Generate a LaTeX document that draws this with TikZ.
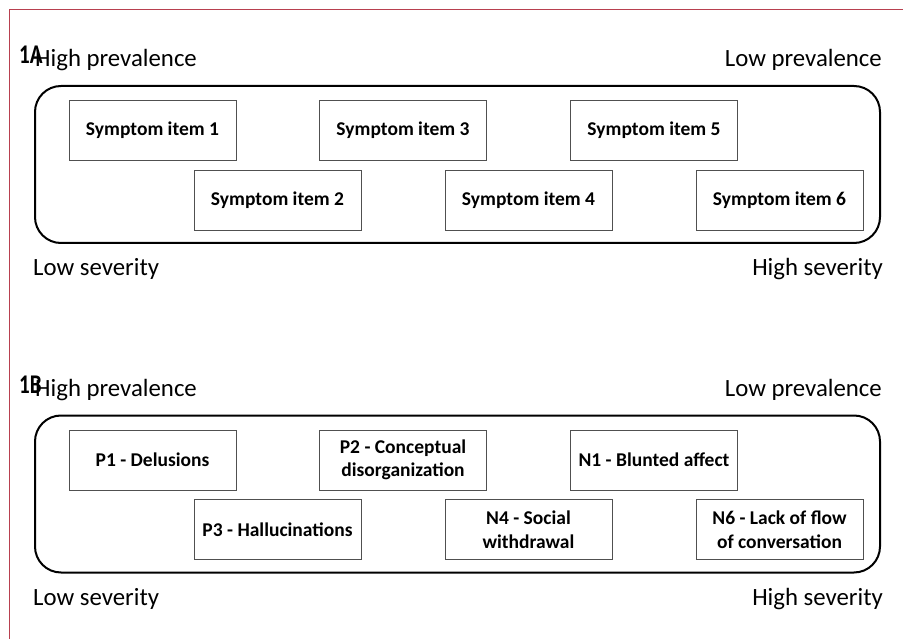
\documentclass[tikz,border=0pt]{standalone}
\usepackage{fontspec}
\setmainfont{Carlito}
\definecolor{framered}{HTML}{B8404F}
\definecolor{boxgray}{HTML}{505050}
\tikzset{
  itembox/.style={draw=boxgray, line width=0.9pt, minimum width=167pt, minimum height=60pt, inner sep=0pt, align=center, font=\bfseries\fontsize{19.5}{23.5}\selectfont},
  container/.style={draw=black, line width=2pt, rounded corners=26pt, minimum width=845pt, minimum height=157pt, inner sep=0pt},
  axislabel/.style={inner sep=0pt, font=\fontsize{24.8}{28}\selectfont},
  panellabel/.style={inner sep=0pt, font=\bfseries\fontsize{27}{30}\selectfont}
}
\begin{document}
\begin{tikzpicture}[x=1pt,y=-1pt]
\useasboundingbox (0,0) rectangle (903,639);
\draw[framered, line width=1.2pt] (9.5,650) -- (9.5,9.5) -- (910,9.5);
% Panel A
\node[container] (contA) at (457.5,164.5) {};
\node[axislabel, anchor=base west] (hpA) at (35,67) {High prevalence};
\node[axislabel, anchor=base east] (lpA) at (882,67) {Low prevalence};
\node[axislabel, anchor=base west] (lsA) at (33,276) {Low severity};
\node[axislabel, anchor=base east] (hsA) at (883,276) {High severity};
\node[panellabel, anchor=base west] (labA) at (19,64) {\scalebox{0.78}[1]{1A}};
\node[itembox] (a1) at (152.5,130.5) {Symptom item 1};
\node[itembox] (a2) at (277.5,200) {Symptom item 2};
\node[itembox] (a3) at (403,130.5) {Symptom item 3};
\node[itembox] (a4) at (528.5,200) {Symptom item 4};
\node[itembox] (a5) at (654,130.5) {Symptom item 5};
\node[itembox] (a6) at (779.5,200) {Symptom item 6};
% Panel B
\node[container] (contB) at (457.5,494) {};
\node[axislabel, anchor=base west] (hpB) at (35,396.5) {High prevalence};
\node[axislabel, anchor=base east] (lpB) at (882,396.5) {Low prevalence};
\node[axislabel, anchor=base west] (lsB) at (33,605.5) {Low severity};
\node[axislabel, anchor=base east] (hsB) at (883,605.5) {High severity};
\node[panellabel, anchor=base west] (labB) at (19,393.5) {\scalebox{0.78}[1]{1B}};
\node[itembox] (b1) at (152.5,460) {P1 - Delusions};
\node[itembox] (b2) at (277.5,529.5) {P3 - Hallucinations};
\node[itembox] (b3) at (403,460) {P2 - Conceptual\\disorganization};
\node[itembox] (b4) at (528.5,529.5) {N4 - Social\\withdrawal};
\node[itembox] (b5) at (654,460) {N1 - Blunted affect};
\node[itembox] (b6) at (779.5,529.5) {N6 - Lack of flow\\of conversation};
\end{tikzpicture}
\end{document}
